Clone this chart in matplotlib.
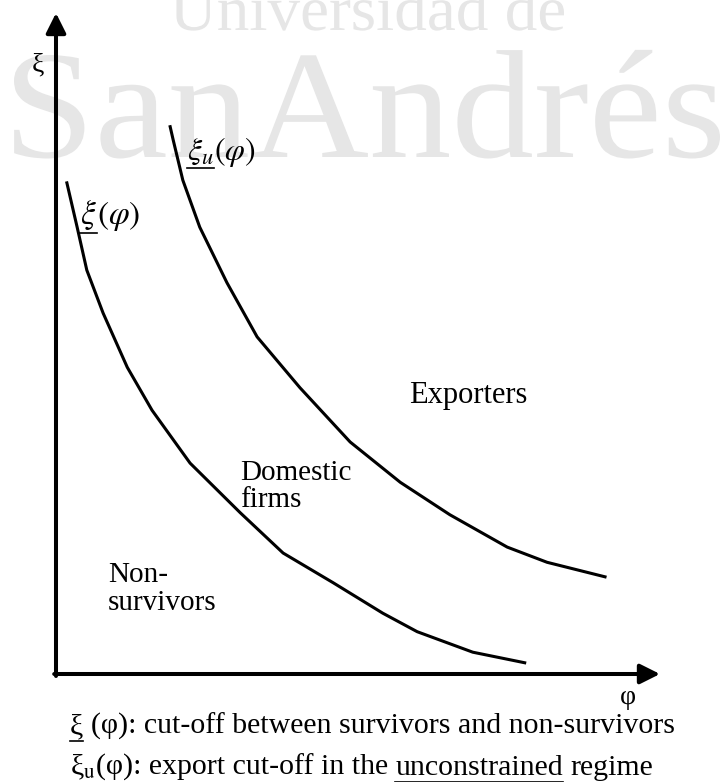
import matplotlib
matplotlib.use('Agg')
import matplotlib.pyplot as plt
from matplotlib.lines import Line2D
from matplotlib.patches import PathPatch
from matplotlib.textpath import TextPath
from matplotlib.font_manager import FontProperties
from matplotlib.transforms import IdentityTransform, Affine2D

plt.rcParams['font.family'] = ['Liberation Serif', 'DejaVu Serif']
plt.rcParams['mathtext.fontset'] = 'stix'

W, H = 725, 782

# cut-off curves (phi on x, xi on y, axes run 0..10)
phi_survive = [0.18, 0.35, 0.51, 0.78, 1.18, 1.59, 2.22, 3.05, 3.76, 4.59, 5.41, 5.98, 6.90, 7.76]
xi_survive = [7.43, 6.76, 6.11, 5.46, 4.64, 3.99, 3.19, 2.44, 1.83, 1.38, 0.92, 0.64, 0.33, 0.17]
phi_export = [1.89, 1.94, 2.10, 2.38, 2.83, 3.33, 4.04, 4.87, 5.70, 6.52, 7.47, 8.13, 9.09]
xi_export = [8.28, 8.08, 7.47, 6.76, 5.92, 5.10, 4.33, 3.51, 2.90, 2.41, 1.92, 1.69, 1.47]

region_labels = ['Exporters', 'Domestic\nfirms', 'Non-\nsurvivors']
caption_1 = [('ξ', True, 0), ('(φ): cut-off between survivors and non-survivors', False, 1)]
caption_2 = [('ξ$_{\\mathrm{u}}$', True, 0), ('(φ): export cut-off in the', False, 0),
             ('unconstrained', True, 1), ('regime', False, 1)]
watermark = ['Universidad de', 'SanAndrés']


def fp(x, y):
    # pixel (from top-left) -> figure fraction
    return x / W, 1 - y / H


def text_row(fig, x, y, parts, size, ul_gap=5, ul_lw=1.2):
    # write pieces one after another on a baseline, underlining some of them
    r = fig.canvas.get_renderer()
    probe1 = fig.text(0, 0, 'a a', fontsize=size, transform=IdentityTransform())
    probe2 = fig.text(0, 0, 'aa', fontsize=size, transform=IdentityTransform())
    sp = probe1.get_window_extent(r).width - probe2.get_window_extent(r).width
    probe1.remove()
    probe2.remove()
    cur = x
    base = H - y
    for s, under, nsp in parts:
        cur += nsp * sp
        t = fig.text(cur, base, s, fontsize=size, va='baseline', ha='left',
                     transform=IdentityTransform())
        bb = t.get_window_extent(r)
        if under:
            ly = min(base - ul_gap, bb.y0 - 1)
            fig.add_artist(Line2D([bb.x0, bb.x1], [ly, ly], color='k', lw=ul_lw,
                                  transform=IdentityTransform()))
        cur = bb.x1


def boxed_word(fig, s, x0, x1, base, cap, color):
    # serif word stretched to a given span and cap height (pixels)
    tp = TextPath((0, 0), s, size=100, prop=FontProperties(family='Liberation Serif'))
    ext = tp.get_extents()
    sx = (x1 - x0) / ext.width
    sy = cap / 66.2
    tr = Affine2D().translate(-ext.x0, 0).scale(sx, sy).translate(x0, H - base)
    fig.add_artist(PathPatch(tr.transform_path(tp), facecolor=color, lw=0,
                             transform=IdentityTransform(), zorder=-1))


fig = plt.figure(figsize=(W / 100, H / 100), dpi=100)

# watermark
boxed_word(fig, watermark[0], 171, 564, 30, 42, '#e6e6e6')
boxed_word(fig, watermark[1], 14, 720, 157, 102, '#e6e6e6')

ax = fig.add_axes([56 / W, 1 - 674 / H, 604 / W, 661 / H])
ax.set_xlim(0, 10)
ax.set_ylim(0, 10)
ax.axis('off')
ax.patch.set_alpha(0)

arrow = dict(arrowstyle='-|>,head_length=0.6,head_width=0.3', lw=2.9, color='k',
             mutation_scale=20, shrinkA=0, shrinkB=0)
ax.annotate('', xy=(0, 10), xytext=(0, -0.03), arrowprops=arrow, annotation_clip=False)
ax.annotate('', xy=(10, 0), xytext=(-0.03, 0), arrowprops=arrow, annotation_clip=False)

ax.plot(phi_survive, xi_survive, color='k', lw=2.2, solid_joinstyle='round', clip_on=False)
ax.plot(phi_export, xi_export, color='k', lw=2.2, solid_joinstyle='round', clip_on=False)

# axis names
fig.text(*fp(38, 65), 'ξ', fontsize=20, ha='center', va='center')
fig.text(*fp(628, 697), 'φ', fontsize=20, ha='center', va='center')

# curve labels
text_row(fig, 80, 224, [('$\\xi$', True, 0), ('$(\\varphi)$', False, 0)], 24)
text_row(fig, 187, 160, [('$\\xi_u$', True, 0), ('$(\\varphi)$', False, 0)], 23)

# regions
fig.text(*fp(468, 395), region_labels[0], fontsize=22, ha='center', va='center')
fig.text(*fp(240, 486), region_labels[1], fontsize=21, ha='left', va='center', linespacing=1.05)
fig.text(*fp(108, 589), region_labels[2], fontsize=21, ha='left', va='center', linespacing=1.05)

# caption
text_row(fig, 70, 734, caption_1, 21.5)
text_row(fig, 70, 775, caption_2, 21.5)

fig.savefig('out.png', dpi=100)
